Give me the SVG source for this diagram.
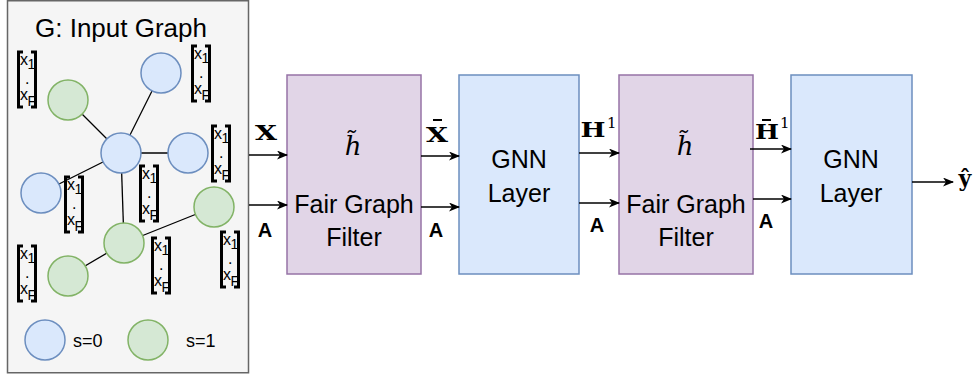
<svg xmlns="http://www.w3.org/2000/svg" width="980" height="380" viewBox="0 0 980 380">
<defs>
<style>
.panel{fill:#f5f5f5;stroke:#666666;stroke-width:1.5}
.blue{fill:#dae8fc;stroke:#6c8ebf;stroke-width:1.5}
.green{fill:#d5e8d4;stroke:#82b366;stroke-width:1.5}
.purple{fill:#e1d5e7;stroke:#9673a6;stroke-width:1.5}
.edge{stroke:#000;stroke-width:1.3;fill:none}
.arrow{stroke:#000;stroke-width:1.5;fill:none;marker-end:url(#ah)}
.brk{stroke:#000;stroke-width:3;fill:none}
.sans{font-family:"Liberation Sans",Arial,sans-serif;fill:#000}
.big{font-size:25px;text-anchor:middle}
.title{font-size:26px;text-anchor:middle}
.leg{font-size:18px}
.fx{font-size:16px}
.fs{font-size:14px}
.lab{font-family:"Liberation Sans",Arial,sans-serif;font-weight:bold;font-size:20px;text-anchor:middle}
.math{font-family:"DejaVu Serif","Liberation Serif",serif;font-weight:bold;font-size:20px;text-anchor:middle}
.sup{font-family:"DejaVu Serif","Liberation Serif",serif;font-size:15px}
.hit{font-family:"DejaVu Serif","Liberation Serif",serif;font-style:italic;font-size:26px;text-anchor:middle}
.bar{stroke:#000;stroke-width:2}
</style>
<marker id="ah" markerWidth="11" markerHeight="9" refX="10" refY="4.5" orient="auto" markerUnits="userSpaceOnUse">
<path d="M0,0 L11,4.5 L0,9 L3,4.5 Z" fill="#000"/>
</marker>
</defs>

<g id="input-graph">
<rect class="panel" x="7.5" y="0.75" width="241" height="372"/>
<text class="sans title" x="121" y="37">G: Input Graph</text>
</g>

<g id="graph-edges">
<line class="edge" x1="121" y1="153" x2="161" y2="73"/>
<line class="edge" x1="121" y1="153" x2="68" y2="100"/>
<line class="edge" x1="121" y1="153" x2="188" y2="153"/>
<line class="edge" x1="121" y1="153" x2="41" y2="193"/>
<line class="edge" x1="121" y1="153" x2="124" y2="243"/>
<line class="edge" x1="124" y1="243" x2="214" y2="207"/>
<line class="edge" x1="124" y1="243" x2="68" y2="276"/>
</g>

<g id="graph-nodes">
<circle id="n-top" class="blue" cx="161" cy="73" r="20"/>
<circle id="n-center" class="blue" cx="121" cy="153" r="20"/>
<circle id="n-right" class="blue" cx="188" cy="153" r="20"/>
<circle id="n-left" class="blue" cx="41" cy="193" r="20"/>
<circle id="n-topleft" class="green" cx="68" cy="100" r="20"/>
<circle id="n-rgreen" class="green" cx="214" cy="207" r="20"/>
<circle id="n-mgreen" class="green" cx="124" cy="243" r="20"/>
<circle id="n-blgreen" class="green" cx="68" cy="276" r="20"/>
</g>

<g id="features">
<g transform="translate(17,52)"><path class="brk" d="M6,0 H1.5 V55 H6 M14,0 H18.5 V55 H14"/><text class="sans fx" x="3" y="13">x</text><text class="sans fs" x="10.5" y="17">1</text><text class="sans fx" x="8" y="32">.</text><text class="sans fx" x="3" y="48">x</text><text class="sans fs" x="10.5" y="54">F</text></g>
<g transform="translate(191,46)"><path class="brk" d="M6,0 H1.5 V55 H6 M14,0 H18.5 V55 H14"/><text class="sans fx" x="3" y="13">x</text><text class="sans fs" x="10.5" y="17">1</text><text class="sans fx" x="8" y="32">.</text><text class="sans fx" x="3" y="48">x</text><text class="sans fs" x="10.5" y="54">F</text></g>
<g transform="translate(211,126)"><path class="brk" d="M6,0 H1.5 V55 H6 M14,0 H18.5 V55 H14"/><text class="sans fx" x="3" y="13">x</text><text class="sans fs" x="10.5" y="17">1</text><text class="sans fx" x="8" y="32">.</text><text class="sans fx" x="3" y="48">x</text><text class="sans fs" x="10.5" y="54">F</text></g>
<g transform="translate(64,177)"><path class="brk" d="M6,0 H1.5 V55 H6 M14,0 H18.5 V55 H14"/><text class="sans fx" x="3" y="13">x</text><text class="sans fs" x="10.5" y="17">1</text><text class="sans fx" x="8" y="32">.</text><text class="sans fx" x="3" y="48">x</text><text class="sans fs" x="10.5" y="54">F</text></g>
<g transform="translate(139,166)"><path class="brk" d="M6,0 H1.5 V55 H6 M14,0 H18.5 V55 H14"/><text class="sans fx" x="3" y="13">x</text><text class="sans fs" x="10.5" y="17">1</text><text class="sans fx" x="8" y="32">.</text><text class="sans fx" x="3" y="48">x</text><text class="sans fs" x="10.5" y="54">F</text></g>
<g transform="translate(220,232)"><path class="brk" d="M6,0 H1.5 V55 H6 M14,0 H18.5 V55 H14"/><text class="sans fx" x="3" y="13">x</text><text class="sans fs" x="10.5" y="17">1</text><text class="sans fx" x="8" y="32">.</text><text class="sans fx" x="3" y="48">x</text><text class="sans fs" x="10.5" y="54">F</text></g>
<g transform="translate(151,238)"><path class="brk" d="M6,0 H1.5 V55 H6 M14,0 H18.5 V55 H14"/><text class="sans fx" x="3" y="13">x</text><text class="sans fs" x="10.5" y="17">1</text><text class="sans fx" x="8" y="32">.</text><text class="sans fx" x="3" y="48">x</text><text class="sans fs" x="10.5" y="54">F</text></g>
<g transform="translate(17,246)"><path class="brk" d="M6,0 H1.5 V55 H6 M14,0 H18.5 V55 H14"/><text class="sans fx" x="3" y="13">x</text><text class="sans fs" x="10.5" y="17">1</text><text class="sans fx" x="8" y="32">.</text><text class="sans fx" x="3" y="48">x</text><text class="sans fs" x="10.5" y="54">F</text></g>
</g>

<g id="legend">
<circle class="blue" cx="45" cy="340" r="20"/>
<text class="sans leg" x="73" y="347">s=0</text>
<circle class="green" cx="148" cy="340" r="20"/>
<text class="sans leg" x="186" y="347">s=1</text>
</g>

<g id="filter1">
<rect class="purple" x="287" y="75" width="134" height="199"/>
<text class="hit" x="353" y="155">h̃</text>
<text class="sans big" x="354" y="213">Fair Graph</text>
<text class="sans big" x="354" y="246">Filter</text>
</g>

<g id="gnn1">
<rect class="blue" x="459" y="75" width="120" height="199"/>
<text class="sans big" x="519" y="168">GNN</text>
<text class="sans big" x="519" y="202">Layer</text>
</g>

<g id="filter2">
<rect class="purple" x="619" y="75" width="134" height="199"/>
<text class="hit" x="685" y="155">h̃</text>
<text class="sans big" x="686" y="213">Fair Graph</text>
<text class="sans big" x="686" y="246">Filter</text>
</g>

<g id="gnn2">
<rect class="blue" x="791" y="75" width="121" height="199"/>
<text class="sans big" x="851" y="168">GNN</text>
<text class="sans big" x="851" y="202">Layer</text>
</g>

<g id="connectors">
<line class="arrow" x1="249" y1="155" x2="287" y2="155"/>
<line class="arrow" x1="249" y1="205" x2="287" y2="205"/>
<line class="arrow" x1="421" y1="156" x2="459" y2="156"/>
<line class="arrow" x1="421" y1="207" x2="459" y2="207"/>
<line class="arrow" x1="579" y1="153" x2="619" y2="153"/>
<line class="arrow" x1="579" y1="203" x2="619" y2="203"/>
<line class="arrow" x1="750" y1="149" x2="791" y2="149"/>
<line class="arrow" x1="753" y1="199" x2="791" y2="199"/>
<line class="arrow" x1="912" y1="182" x2="953" y2="182"/>
</g>

<g id="labels">
<text class="math" x="266" y="140" textLength="22" lengthAdjust="spacingAndGlyphs">X</text>
<text class="lab" x="265" y="237">A</text>
<text class="math" x="437" y="142" textLength="22" lengthAdjust="spacingAndGlyphs">X</text>
<line class="bar" x1="433" y1="120" x2="442" y2="120"/>
<text class="lab" x="436" y="237">A</text>
<text class="math" x="593" y="137" textLength="25" lengthAdjust="spacingAndGlyphs">H</text>
<text class="sup" x="607" y="128">1</text>
<text class="lab" x="597" y="232">A</text>
<text class="math" x="767" y="139" textLength="24" lengthAdjust="spacingAndGlyphs">H</text>
<line class="bar" x1="762" y1="120" x2="771" y2="120"/>
<text class="sup" x="780" y="128">1</text>
<text class="lab" x="766" y="228">A</text>
<text class="math" x="965" y="186" style="font-size:22px">ŷ</text>
</g>
</svg>
